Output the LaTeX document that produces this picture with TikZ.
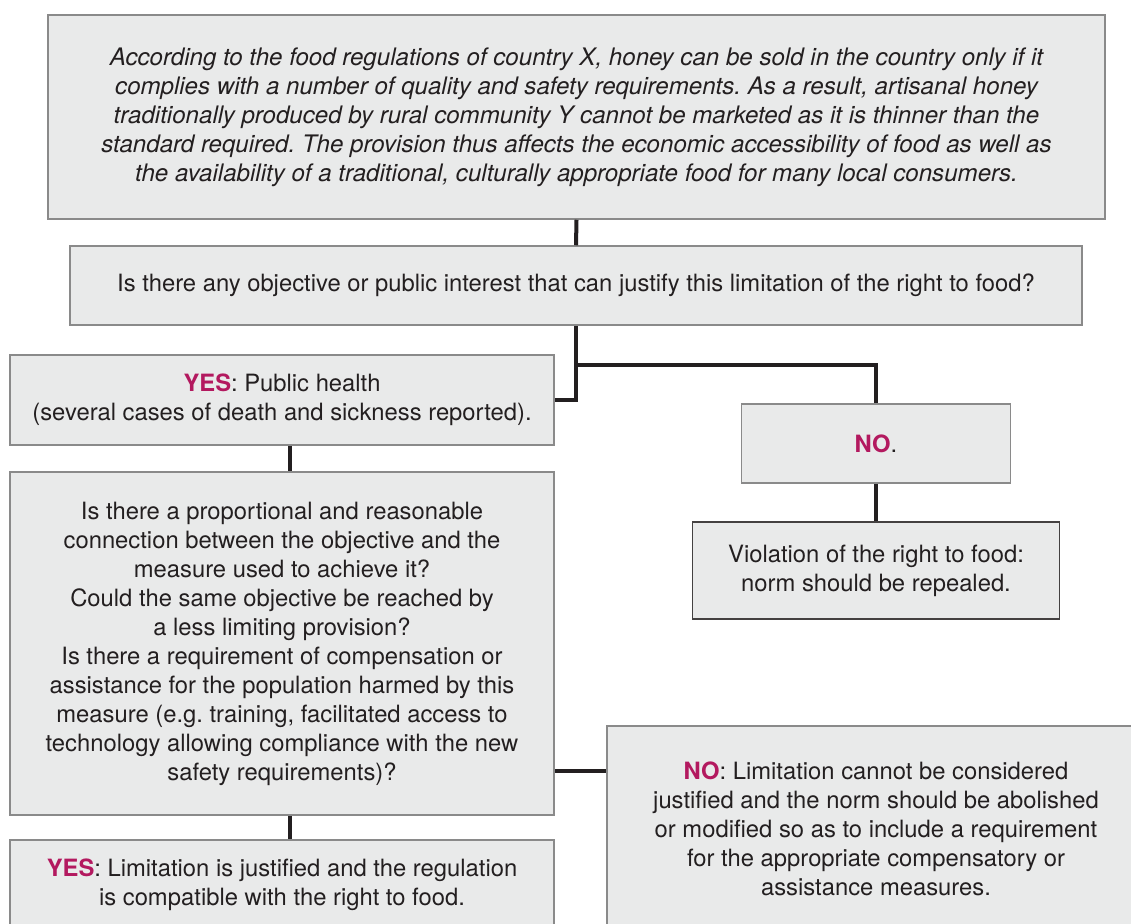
\documentclass[tikz,border=0pt]{standalone}
\usepackage{fontspec}
\setmainfont{TeX Gyre Heros}
\frenchspacing
\definecolor{boxfill}{HTML}{E9EAEA}
\definecolor{boxline}{HTML}{8A8A8A}
\definecolor{ink}{HTML}{231F20}
\definecolor{mag}{HTML}{B3195F}
\tikzset{
  box/.style={draw=boxline, line width=1.5pt, fill=boxfill, align=center, text=ink, inner sep=0pt,
    font=\fontsize{23.8}{29}\selectfont},
  darkbox/.style={box, draw=ink!85},
  conn/.style={draw=ink, line width=4pt},
}
\newcommand{\hl}[1]{\textcolor{mag}{\textbf{#1}}}
\begin{document}
\begin{tikzpicture}[x=1pt,y=-1pt]
\useasboundingbox (0,0) rectangle (1131,923);
\clip (0,0) rectangle (1131,923);
\fill[white] (0,0) rectangle (1131,923);
% coordinates for connector routing
\coordinate (cx) at (290,0);
\coordinate (br) at (576,365);
\coordinate (cy) at (0,771);
\node[box, minimum width=1057pt, minimum height=204pt, font=\fontsize{24.1}{29}\selectfont\itshape] (top) at (576.5,117)
 {According to the food regulations of country X, honey can be sold in the country only if it\\
  complies with a number of quality and safety requirements. As a result, artisanal honey\\
  traditionally produced by rural community Y cannot be marketed as it is thinner than the\\
  standard required. The provision thus affects the economic accessibility of food as well as\\
  the availability of a traditional, culturally appropriate food for many local consumers.};
\node[box, minimum width=1012pt, minimum height=79pt] (q1) at (576,285.5)
 {Is there any objective or public interest that can justify this limitation of the right to food?};
\node[box, minimum width=544pt, minimum height=90pt] (yes1) at (282,400)
 {\hl{YES}: Public health\\(several cases of death and sickness reported).};
\node[box, minimum width=269pt, minimum height=79pt] (no1) at (876,443.5)
 {\hl{NO}.};
\node[darkbox, minimum width=367pt, minimum height=97pt] (viol) at (876,570.5)
 {Violation of the right to food:\\norm should be repealed.};
\node[box, minimum width=544pt, minimum height=343pt] (q2) at (282,643.5)
 {Is there a proportional and reasonable\\
  connection between the objective and the\\
  measure used to achieve it?\\
  Could the same objective be reached by\\
  a less limiting provision?\\
  Is there a requirement of compensation or\\
  assistance for the population harmed by this\\
  measure (e.g. training, facilitated access to\\
  technology allowing compliance with the new\\
  safety requirements)?};
\node[box, minimum width=538pt, minimum height=206pt] (no2) at (876,829)
 {\hl{NO}: Limitation cannot be considered\\
  justified and the norm should be abolished\\
  or modified so as to include a requirement\\
  for the appropriate compensatory or\\
  assistance measures.};
\node[box, minimum width=544pt, minimum height=90pt] (yes2) at (282,885)
 {\hl{YES}: Limitation is justified and the regulation\\
  is compatible with the right to food.};
% connectors
\draw[conn] (top.south) -- (q1.north);
\draw[conn, line join=miter] (q1.south) |- (yes1.east);
\draw[conn, line join=miter] (br) -| (no1.north);
\draw[conn] (no1.south) -- (viol.north);
\draw[conn] (yes1.south -| cx) -- (q2.north -| cx);
\draw[conn] (q2.east |- cy) -- (no2.west |- cy);
\draw[conn] (q2.south -| cx) -- (yes2.north -| cx);
\end{tikzpicture}
\end{document}
